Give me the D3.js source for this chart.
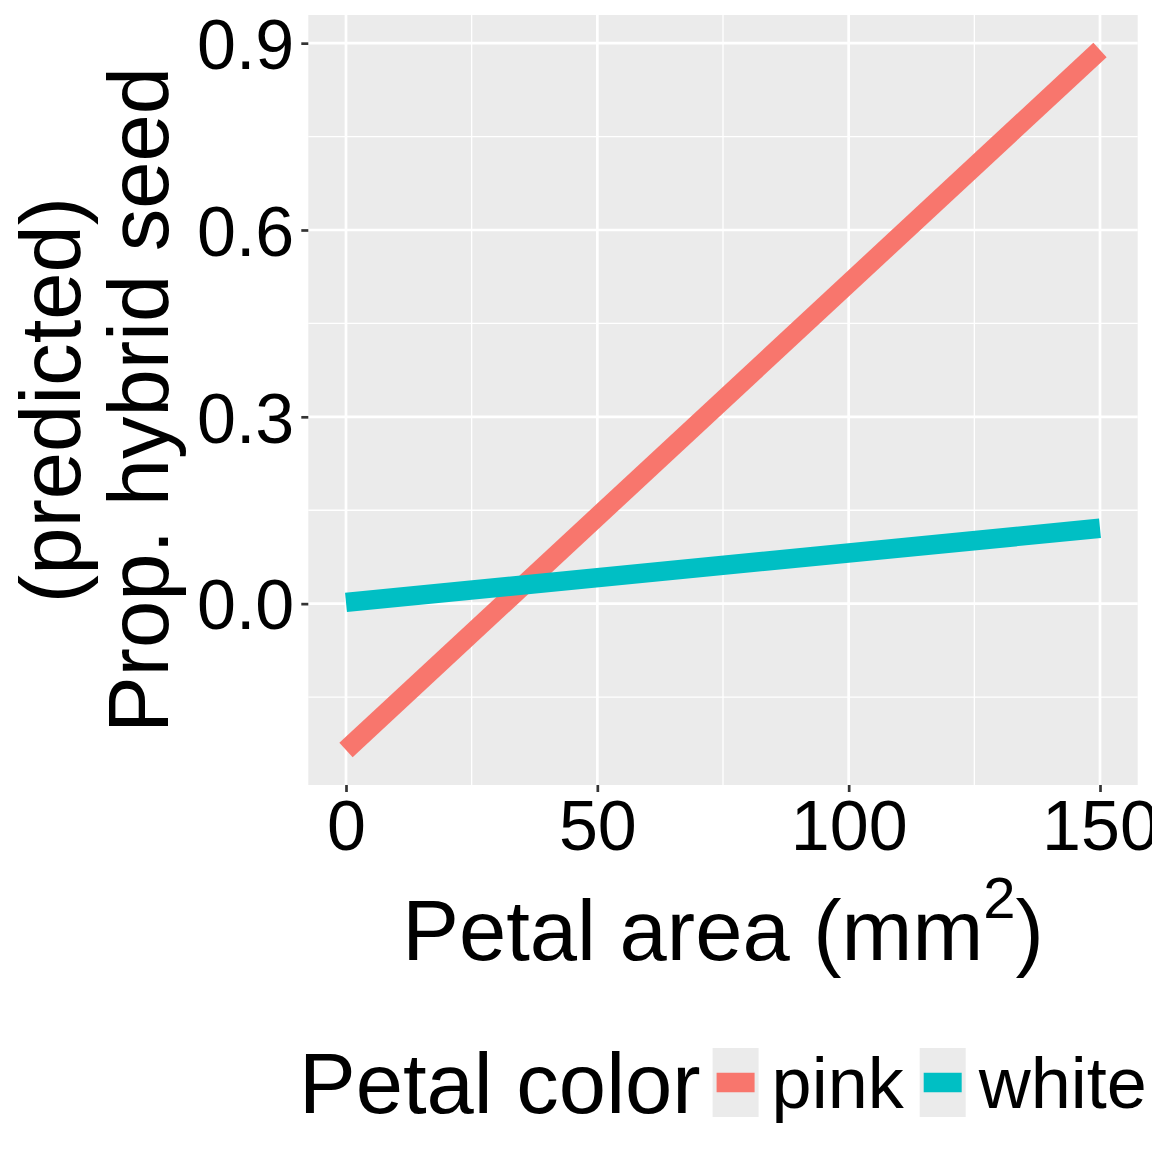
<!DOCTYPE html>
<meta charset="utf-8">
<script src="https://d3js.org/d3.v7.min.js"></script>
<style>
  body { margin: 0; background: #fff; }
  text { font-family: "Liberation Sans", Arial, sans-serif; }
</style>
<body>
<div id="chart"></div>
<script>
// values
var petalArea = [0, 150];
var pinkPred = [-0.235, 0.889];
var whitePred = [0.002, 0.121];
var colorLevels = ["pink", "white"];
var colorFills = ["#F8766D", "#00BFC4"];
var xTicks = [0, 50, 100, 150];
var xMinor = [25, 75, 125];
var yTicks = [0, 0.3, 0.6, 0.9];
var yMinor = [-0.15, 0.15, 0.45, 0.75];

var W = 1152, H = 1152;
var panel = {left: 308.3, right: 1137.7, top: 15, bottom: 785};

var svg = d3.select("#chart").append("svg").attr("width", W).attr("height", H);

// ggplot style 5% expansion
function expand(ext) { var d = (ext[1] - ext[0]) * 0.05; return [ext[0] - d, ext[1] + d]; }
var x = d3.scaleLinear().domain(expand(d3.extent(petalArea))).range([panel.left, panel.right]);
var y = d3.scaleLinear().domain(expand(d3.extent(pinkPred.concat(whitePred)))).range([panel.bottom, panel.top]);

svg.append("rect").attr("x", panel.left).attr("y", panel.top)
  .attr("width", panel.right - panel.left).attr("height", panel.bottom - panel.top)
  .attr("fill", "#EBEBEB");

var grid = svg.append("g");
grid.selectAll(".xmin").data(xMinor).enter().append("line")
  .attr("x1", d => x(d)).attr("x2", d => x(d)).attr("y1", panel.top).attr("y2", panel.bottom)
  .attr("stroke", "#fff").attr("stroke-width", 1.3);
grid.selectAll(".ymin").data(yMinor).enter().append("line")
  .attr("y1", d => y(d)).attr("y2", d => y(d)).attr("x1", panel.left).attr("x2", panel.right)
  .attr("stroke", "#fff").attr("stroke-width", 1.3);
grid.selectAll(".xmaj").data(xTicks).enter().append("line")
  .attr("x1", d => x(d)).attr("x2", d => x(d)).attr("y1", panel.top).attr("y2", panel.bottom)
  .attr("stroke", "#fff").attr("stroke-width", 2.7);
grid.selectAll(".ymaj").data(yTicks).enter().append("line")
  .attr("y1", d => y(d)).attr("y2", d => y(d)).attr("x1", panel.left).attr("x2", panel.right)
  .attr("stroke", "#fff").attr("stroke-width", 2.7);

// lines
var series = [pinkPred, whitePred];
var line = d3.line().x((d, i) => x(petalArea[i])).y(d => y(d));
svg.selectAll(".fit").data(series).enter().append("path")
  .attr("d", d => line(d))
  .attr("fill", "none")
  .attr("stroke", (d, i) => colorFills[i])
  .attr("stroke-width", 19.5)
  .attr("stroke-linecap", "butt");

// axes
var xAxis = d3.axisBottom(x).tickValues(xTicks).tickSize(7).tickPadding(12).tickFormat(d3.format("d"));
var gx = svg.append("g").attr("transform", "translate(0," + panel.bottom + ")").call(xAxis);
var yAxis = d3.axisLeft(y).tickValues(yTicks).tickSize(7).tickPadding(7).tickFormat(d3.format(".1f"));
var gy = svg.append("g").attr("transform", "translate(" + panel.left + ",0)").call(yAxis);
[gx, gy].forEach(function(g) {
  g.select(".domain").remove();
  g.selectAll(".tick line").attr("stroke", "#333333").attr("stroke-width", 2.7);
  g.selectAll(".tick text").attr("fill", "#000").attr("font-size", 70)
    .style("font-family", '"Liberation Sans", Arial, sans-serif');
});
gx.selectAll(".tick text").attr("dy", null).attr("y", 65);
gy.selectAll(".tick text").attr("dy", "0.36em");

// axis titles
var xt = svg.append("text").attr("x", (panel.left + panel.right) / 2).attr("y", 960)
  .attr("text-anchor", "middle").attr("font-size", 85).attr("fill", "#000");
xt.append("tspan").text("Petal area (mm");
xt.append("tspan").attr("font-size", 58).attr("dy", -42).text("2");
xt.append("tspan").attr("dy", 42).text(")");

var ymid = (panel.top + panel.bottom) / 2;
svg.append("text").attr("transform", "translate(80," + ymid + ") rotate(-90)")
  .attr("text-anchor", "middle").attr("font-size", 85).attr("fill", "#000").text("(predicted)");
svg.append("text").attr("transform", "translate(168," + ymid + ") rotate(-90)")
  .attr("text-anchor", "middle").attr("font-size", 85).attr("fill", "#000").text("Prop. hybrid seed");

// legend
var leg = svg.append("g");
var keyY = 1048, keyW = 46, keyH = 69;
var title = leg.append("text").attr("x", 299).attr("y", 1113).attr("font-size", 85).attr("fill", "#000").text("Petal color");
var cx = 299 + title.node().getComputedTextLength() + 12;
colorLevels.forEach(function(lv, i) {
  leg.append("rect").attr("x", cx).attr("y", keyY).attr("width", keyW).attr("height", keyH).attr("fill", "#EBEBEB");
  leg.append("line").attr("x1", cx + 4).attr("x2", cx + keyW - 4)
    .attr("y1", keyY + keyH / 2).attr("y2", keyY + keyH / 2)
    .attr("stroke", colorFills[i]).attr("stroke-width", 19.5);
  var t = leg.append("text").attr("x", cx + keyW + 13).attr("y", 1108).attr("font-size", 72).attr("fill", "#000").text(lv);
  cx = cx + keyW + 13 + t.node().getComputedTextLength() + 16;
});
</script>
</body>
